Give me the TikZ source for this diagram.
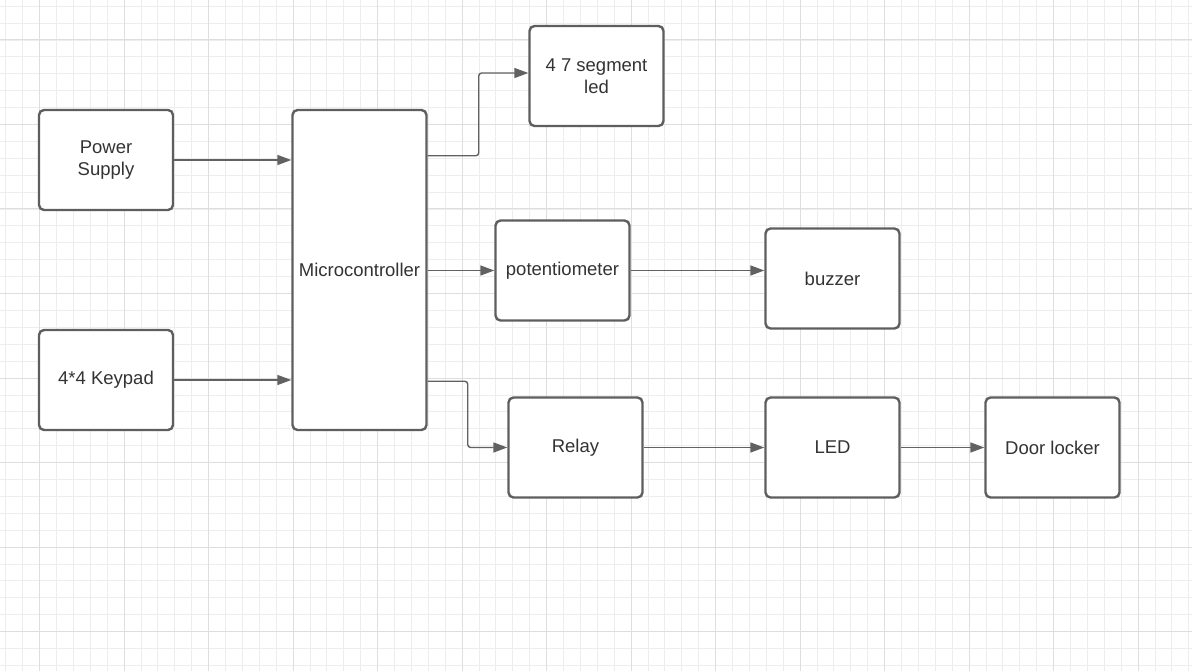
\documentclass[tikz,border=0pt]{standalone}
\usepackage{fontspec}
\setmainfont{Liberation Sans}
\usetikzlibrary{arrows.meta}
\definecolor{boxline}{HTML}{5E5E5E}
\definecolor{connline}{HTML}{616161}
\definecolor{txt}{HTML}{333333}
\definecolor{gridminor}{HTML}{EDEDED}
\definecolor{gridmajor}{HTML}{DEDEDE}
\tikzset{
  blk/.style={draw=boxline, line width=2.4pt, rounded corners=5pt, fill=white,
    minimum width=134pt, minimum height=100pt, inner sep=2pt, align=center,
    text=txt, font=\fontsize{18.5}{22}\selectfont},
  conn/.style={draw=connline, line width=1.4pt,
    -{Triangle[length=14pt,width=10pt]}},
}
\begin{document}
\begin{tikzpicture}[x=1pt,y=-1pt]
\useasboundingbox (0,0) rectangle (1192,671);
\fill[white] (0,0) rectangle (1192,671);
% grid
\foreach \i in {-2,...,68} {
  \draw[gridminor, line width=0.8pt] ({39.5+\i*16.9},0) -- ({39.5+\i*16.9},671);
}
\foreach \j in {-2,...,37} {
  \draw[gridminor, line width=0.8pt] (0,{40+\j*16.9}) -- (1192,{40+\j*16.9});
}
\foreach \i in {0,...,13} {
  \draw[gridmajor, line width=1pt] ({39.5+\i*84.5},0) -- ({39.5+\i*84.5},671);
}
\foreach \j in {0,...,7} {
  \draw[gridmajor, line width=1pt] (0,{40+\j*84.5}) -- (1192,{40+\j*84.5});
}
% nodes
\node[blk] (power) at (106,160) {Power\\Supply};
\node[blk] (keypad) at (106,380) {4*4 Keypad};
\node[blk, minimum height=320pt] (micro) at (359.5,270) {Microcontroller};
\node[blk] (seg) at (596.5,76) {4 7 segment\\led};
\node[blk] (pot) at (562.5,270.5) {potentiometer};
\node[blk] (buzzer) at (832.5,278.5) {buzzer};
\node[blk] (relay) at (575.5,447.5) {Relay};
\node[blk] (led) at (832.5,447.5) {LED};
\node[blk] (door) at (1052.5,447.5) {Door locker};
% connectors
\draw[conn] (power.east) -- (micro.west |- power.east);
\draw[conn] (keypad.east) -- (micro.west |- keypad.east);
\draw[conn, rounded corners=3pt] ([yshift=-47pt]micro.north east) -- ++(51,0) |- ([yshift=3pt]seg.west);
\draw[conn] (micro.east |- pot.west) -- (pot.west);
\draw[conn, rounded corners=3pt] ([yshift=50pt]micro.south east) -- ++(40,0) |- (relay.west);
\draw[conn] (pot.east) -- (buzzer.west |- pot.east);
\draw[conn] (relay.east) -- (led.west);
\draw[conn] (led.east) -- (door.west);
\end{tikzpicture}
\end{document}
